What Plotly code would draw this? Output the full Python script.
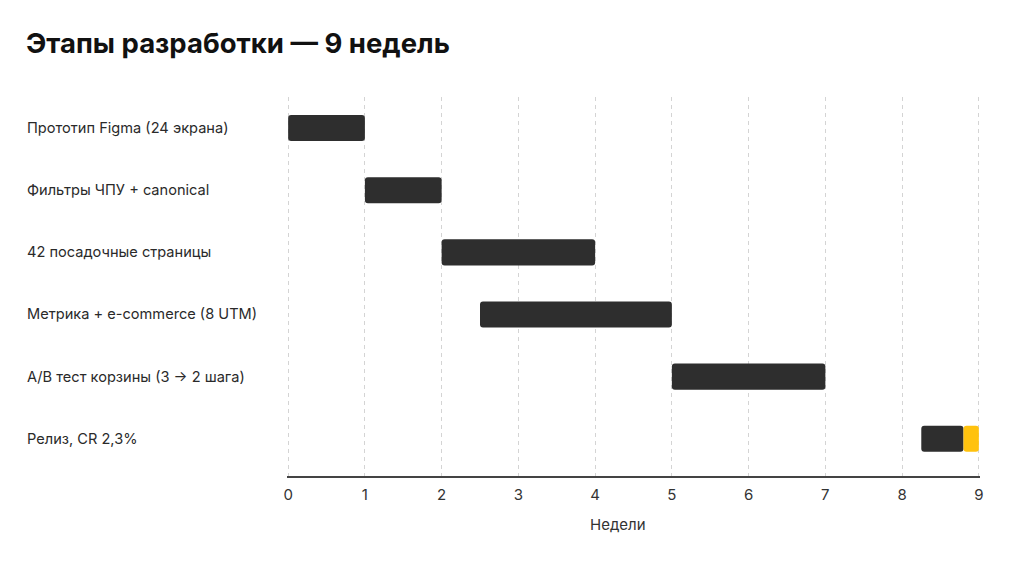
import plotly.graph_objects as go

tasks = [
    "Прототип Figma (24 экрана)",
    "Фильтры ЧПУ + canonical",
    "42 посадочные страницы",
    "Метрика + e-commerce (8 UTM)",
    "A/B тест корзины (3 → 2 шага)",
    "Релиз, CR 2,3%",
]
start_week = [0, 1, 2, 2.5, 5, 8.25]
end_week = [1, 2, 4, 5, 7, 8.8]

highlight_task = ["Релиз, CR 2,3%"]
highlight_start = [8.8]
highlight_end = [9.0]

x_ticks = [0, 1, 2, 3, 4, 5, 6, 7, 8, 9]

FONT = "Inter"
DARK = "#2e2e2e"
YELLOW = "#FFC20E"

PLOT_L, PLOT_R = 287, 44
PLOT_W = 1024 - PLOT_L - PLOT_R

fig = go.Figure()
fig.add_trace(go.Bar(
    y=tasks,
    base=start_week,
    x=[e - s for s, e in zip(start_week, end_week)],
    orientation="h",
    marker=dict(color=DARK, line=dict(width=0)),
    width=0.42,
    hoverinfo="skip",
))
fig.add_trace(go.Bar(
    y=highlight_task,
    base=highlight_start,
    x=[e - s for s, e in zip(highlight_start, highlight_end)],
    orientation="h",
    marker=dict(color=YELLOW, line=dict(width=0)),
    width=0.42,
    hoverinfo="skip",
))

for t in tasks:
    fig.add_annotation(
        x=-(PLOT_L - 25) / PLOT_W, xref="paper", y=t, yref="y",
        text=t, showarrow=False, xanchor="left", yanchor="middle",
        font=dict(family=FONT, size=14.6, color="#2a2a2a"),
    )

fig.add_annotation(
    x=(618 - PLOT_L) / PLOT_W, xref="paper", y=-0.127, yref="paper",
    text="Недели", showarrow=False, xanchor="center", yanchor="middle",
    font=dict(family=FONT, size=15, color="#333333"),
)

fig.update_layout(
    width=1024, height=576,
    margin=dict(l=PLOT_L, r=PLOT_R, t=97, b=100),
    paper_bgcolor="#ffffff",
    plot_bgcolor="#ffffff",
    barmode="overlay",
    barcornerradius=3,
    showlegend=False,
    title=dict(
        text="<b>Этапы разработки — 9 недель</b>",
        x=26 / 1024, xanchor="left", xref="container",
        y=1 - 43 / 576, yanchor="middle", yref="container",
        font=dict(family=FONT, size=27.5, color="#111111"),
    ),
    xaxis=dict(
        range=[-0.015, 9.015],
        tickmode="array", tickvals=x_ticks,
        showgrid=True, gridcolor="#d4d4d4", griddash="4px,4px", gridwidth=1,
        zeroline=False,
        showline=True, linecolor="#444444", linewidth=1.5,
        ticks="", ticklabelstandoff=4,
        tickfont=dict(family=FONT, size=15, color="#333333"),
    ),
    yaxis=dict(
        categoryorder="array", categoryarray=tasks,
        range=[5.6, -0.5],
        showticklabels=False, showgrid=False, zeroline=False, showline=False,
    ),
)

fig.write_html("out.html")
